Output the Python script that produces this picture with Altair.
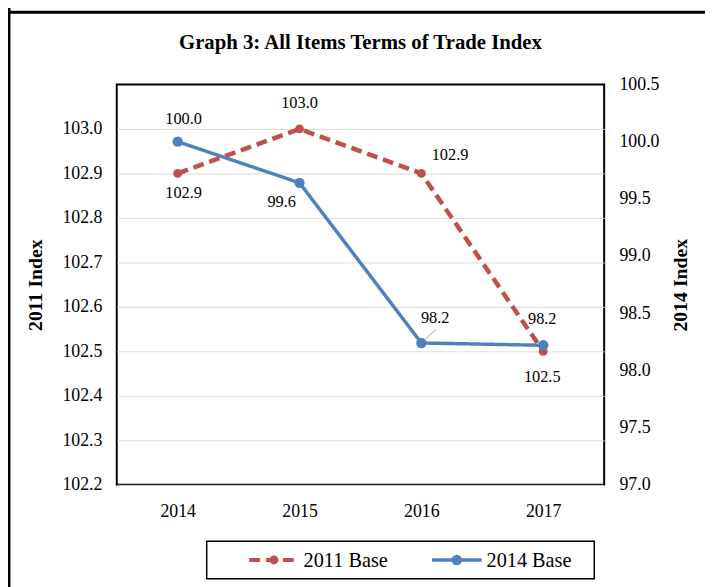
import altair as alt
import pandas as pd

FONT = "Liberation Serif"

years = ["2014", "2015", "2016", "2017"]
base_2011 = [102.9, 103.0, 102.9, 102.5]
base_2014 = [100.0, 99.64, 98.24, 98.22]
series_names = ["2011 Base", "2014 Base"]
left_ticks = [102.2, 102.3, 102.4, 102.5, 102.6, 102.7, 102.8, 102.9, 103.0]
right_ticks = [97.0, 97.5, 98.0, 98.5, 99.0, 99.5, 100.0, 100.5]
title_text = "Graph 3: All Items Terms of Trade Index"

RED = "#C0504D"
BLUE = "#4F81BD"

df = pd.DataFrame({
    "year": years * 2,
    "series": [series_names[0]] * len(years) + [series_names[1]] * len(years),
    "value": base_2011 + base_2014,
})

W, H = 493, 405

X = alt.X("year:O", scale=alt.Scale(type="point", padding=0.5),
          axis=alt.Axis(title=None, labelAngle=0, labelPadding=18, labelFontSize=18))

Y_left = alt.Y("value:Q",
               scale=alt.Scale(domain=[102.2, 103.1], nice=False, zero=False),
               axis=alt.Axis(orient="left", values=left_ticks, format=".1f", grid=True,
                             title="2011 Index", titleX=-82, titleY=H / 2, titleAngle=270,
                             titleAlign="center", titleBaseline="middle",
                             titleFont=FONT, titleFontSize=20, titleFontWeight="bold",
                             labelPadding=15))
Y_right = alt.Y("value:Q",
                scale=alt.Scale(domain=[97.0, 100.5], nice=False, zero=False),
                axis=alt.Axis(orient="right", values=right_ticks, format=".1f", grid=False,
                              title="2014 Index", titleX=77, titleY=H / 2, titleAngle=270,
                              titleAlign="center", titleBaseline="middle",
                              titleFont=FONT, titleFontSize=20, titleFontWeight="bold",
                              labelPadding=15))

color = alt.Color("series:N",
                  scale=alt.Scale(domain=series_names, range=[RED, BLUE]),
                  legend=None)
dash = alt.StrokeDash("series:N",
                      scale=alt.Scale(domain=series_names, range=[[11, 6], [1, 0]]),
                      legend=None)

base = alt.Chart(df)


def series_filter(name):
    return alt.datum.series == name


def label(name, year, dx, dy, ydef):
    return base.transform_filter(
        (alt.datum.series == name) & (alt.datum.year == year)
    ).mark_text(font=FONT, fontSize=16.5, color="black", dx=dx, dy=dy).encode(
        x=X, y=ydef, text=alt.Text("value:Q", format=".1f"))


line_2011 = base.transform_filter(series_filter("2011 Base")).mark_line(
    strokeWidth=4.5).encode(x=X, y=Y_left, color=color, strokeDash=dash)
pts_2011 = base.transform_filter(series_filter("2011 Base")).mark_point(
    shape="circle", filled=True, size=80, color=RED, opacity=1).encode(x=X, y=Y_left)

left = alt.layer(
    line_2011, pts_2011,
    label("2011 Base", "2014", 6, 20, Y_left),
    label("2011 Base", "2015", 0, -26, Y_left),
    label("2011 Base", "2016", 29, -19, Y_left),
    label("2011 Base", "2017", -1, 26, Y_left),
)

line_2014 = base.transform_filter(series_filter("2014 Base")).mark_line(
    strokeWidth=3.5).encode(x=X, y=Y_right, color=color, strokeDash=dash)
pts_2014 = base.transform_filter(series_filter("2014 Base")).mark_point(
    shape="circle", filled=True, size=110, color=BLUE, opacity=1).encode(x=X, y=Y_right)
leader = base.transform_filter(
    (alt.datum.series == "2014 Base") & (alt.datum.year == "2016")
).mark_rule(color="#A6A6A6", strokeWidth=1, xOffset=4, yOffset=-4,
            x2Offset=15, y2Offset=-14).encode(
    x=X, y=Y_right, x2=alt.X2("year"), y2=alt.Y2("value"))

right = alt.layer(
    line_2014, leader, pts_2014,
    label("2014 Base", "2014", 6, -23, Y_right),
    label("2014 Base", "2015", -18, 19, Y_right),
    label("2014 Base", "2016", 14, -25, Y_right),
    label("2014 Base", "2017", -1, -27, Y_right),
)

one = alt.Chart(pd.DataFrame({"k": [0]}))
border_top = one.mark_rule(color="black", strokeWidth=3).encode(
    x=alt.value(-112), x2=alt.value(700), y=alt.value(-73))
border_left = one.mark_rule(color="black", strokeWidth=3).encode(
    x=alt.value(-109), y=alt.value(-80), y2=alt.value(600))
title_mark = alt.Chart(pd.DataFrame({"t": [title_text]})).mark_text(
    font=FONT, fontSize=21, fontWeight="bold", color="black",
    align="center", baseline="middle").encode(
    x=alt.value(W / 2), y=alt.value(-42), text="t:N")

# legend (drawn by hand: box, line samples, markers, labels)
leg_y = 481
legend_box = one.mark_rect(fill="white", stroke="black", strokeWidth=1.5).encode(
    x=alt.value(91), x2=alt.value(483), y=alt.value(462), y2=alt.value(500))
leg_df = pd.DataFrame({"series": series_names})
leg = alt.Chart(leg_df)
leg_layers = []
for name, x0, col, dsh, sz in [(series_names[0], 134, RED, [11, 6], 80),
                               (series_names[1], 319, BLUE, [1, 0], 110)]:
    f = leg.transform_filter(alt.datum.series == name)
    leg_layers.append(f.mark_rule(color=col, strokeWidth=4 if col == RED else 3.5,
                                  strokeDash=dsh).encode(
        x=alt.value(x0), x2=alt.value(x0 + 50), y=alt.value(leg_y)))
    leg_layers.append(f.mark_point(shape="circle", filled=True, size=sz, color=col,
                                   opacity=1).encode(
        x=alt.value(x0 + 25), y=alt.value(leg_y)))
    leg_layers.append(f.mark_text(font=FONT, fontSize=20.5, color="black", align="left",
                                  baseline="middle").encode(
        x=alt.value(x0 + 55), y=alt.value(leg_y + 1), text="series:N"))

chart = alt.layer(border_top, border_left, title_mark, legend_box, *leg_layers,
                  left, right).resolve_scale(
    y="independent"
).properties(
    width=W, height=H,
    autosize=alt.AutoSizeParams(type="none"),
    padding={"left": 110, "top": 74, "right": 102, "bottom": 100},
).configure_view(
    stroke="black", strokeWidth=2
).configure_axis(
    domain=False, ticks=False, tickSize=0, labelFont=FONT, labelFontSize=18,
    labelColor="black", gridColor="#D9D9D9", gridWidth=1, titleColor="black"
)

chart.save("out.html", embed_options={"renderer": "svg", "actions": False})
